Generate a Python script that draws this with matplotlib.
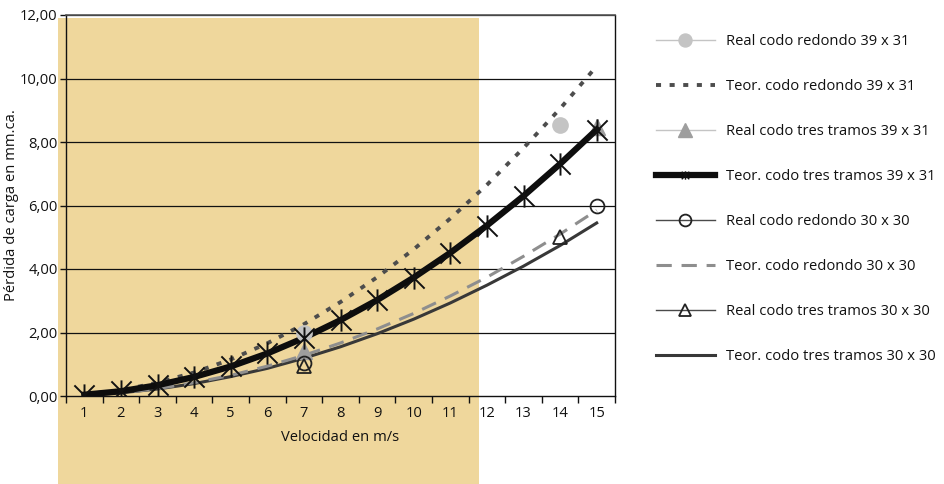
import numpy as np
import matplotlib
matplotlib.use("Agg")
import matplotlib.pyplot as plt
from matplotlib.patches import Rectangle
from matplotlib.path import Path

plt.rcParams['font.family'] = ['Open Sans', 'DejaVu Sans']

velocidad = list(range(1, 16))
nan = np.nan

real_redondo_39 = [nan, nan, nan, nan, nan, nan, 2.00, nan, nan, nan, nan, nan, nan, 8.53, nan]
teor_redondo_39 = [0.05, 0.18, 0.42, 0.74, 1.15, 1.66, 2.26, 2.96, 3.74, 4.62, 5.59, 6.65, 7.81, 9.05, 10.39]
real_tres_39 = [nan, nan, nan, nan, nan, nan, 1.42, nan, nan, nan, nan, nan, nan, nan, 8.47]
teor_tres_39 = [0.04, 0.15, 0.34, 0.60, 0.93, 1.34, 1.83, 2.39, 3.02, 3.73, 4.51, 5.37, 6.30, 7.31, 8.39]
real_redondo_30 = [nan, nan, nan, nan, nan, nan, 1.04, nan, nan, nan, nan, nan, nan, nan, 6.00]
teor_redondo_30 = [0.03, 0.10, 0.23, 0.42, 0.65, 0.94, 1.28, 1.67, 2.11, 2.60, 3.15, 3.74, 4.40, 5.10, 5.85]
real_tres_30 = [nan, nan, nan, nan, nan, nan, 0.95, nan, nan, nan, nan, nan, nan, 5.00, nan]
teor_tres_30 = [0.02, 0.10, 0.22, 0.39, 0.61, 0.87, 1.19, 1.55, 1.96, 2.42, 2.93, 3.49, 4.09, 4.74, 5.45]

labels = ["Real codo redondo 39 x 31", "Teor. codo redondo 39 x 31",
          "Real codo tres tramos 39 x 31", "Teor. codo tres tramos 39 x 31",
          "Real codo redondo 30 x 30", "Teor. codo redondo 30 x 30",
          "Real codo tres tramos 30 x 30", "Teor. codo tres tramos 30 x 30"]

yticks = [0, 2, 4, 6, 8, 10, 12]
ytick_labels = ["0,00", "2,00", "4,00", "6,00", "8,00", "10,00", "12,00"]

# asterisk marker: X plus vertical bar
star = Path([(-1, -1), (1, 1), (-1, 1), (1, -1), (0, -1.1), (0, 1.1)],
            [Path.MOVETO, Path.LINETO, Path.MOVETO, Path.LINETO, Path.MOVETO, Path.LINETO])

FS = 10.6
fig = plt.figure(figsize=(9.45, 4.84), dpi=100)
ax = fig.add_axes([66/945, 1-396/484, (615-66)/945, (396-15)/484])

# shaded band
ax.add_patch(Rectangle((0.28, -2.8), 11.5, 11.9 + 2.8, facecolor='#efd79c',
                       edgecolor='none', clip_on=False, zorder=0.2))

for y in yticks[1:]:
    ax.axhline(y, color='#111111', lw=0.9, zorder=0.6)

v = np.array(velocidad)
h = []
h.append(ax.plot(v, teor_tres_30, color='#383838', lw=2.2, zorder=3, label=labels[7])[0])
h.append(ax.plot(v, teor_redondo_30, color='#8e8e8e', lw=2.2, dashes=(5, 3.2), zorder=3, label=labels[5])[0])
h.append(ax.plot(v, teor_redondo_39, color='#4d4d4d', lw=2.8, dashes=(1.3, 2.2), zorder=3, label=labels[1])[0])
h.append(ax.plot(v, teor_tres_39, color='#0d0d0d', lw=4.5, zorder=4, label=labels[3])[0])
h.append(ax.plot(v, real_redondo_39, color='#c4c4c4', lw=1, marker='o', markersize=11,
                 markeredgecolor='#c4c4c4', zorder=4.3, label=labels[0])[0])
h.append(ax.plot(v, real_tres_39, color='#c4c4c4', lw=1, marker='^', markersize=12,
                 markerfacecolor='#9e9e9e', markeredgecolor='#9e9e9e', zorder=3.5, label=labels[2])[0])
# asterisk markers of the black line drawn above the grey real points
ax.plot(v, teor_tres_39, linestyle='none', marker=star, markersize=16,
        markeredgewidth=1.4, markeredgecolor='#111111', zorder=4.6)
h.append(ax.plot(v, real_redondo_30, color='#4a4a4a', lw=1, marker='o', markersize=10,
                 markerfacecolor='none', markeredgecolor='#222222', markeredgewidth=1.3, zorder=5, label=labels[4])[0])
h.append(ax.plot(v, real_tres_30, color='#4a4a4a', lw=1, marker='^', markersize=10,
                 markerfacecolor='none', markeredgecolor='#222222', markeredgewidth=1.3, zorder=5, label=labels[6])[0])

ax.set_xlim(0.5, 15.5)
ax.set_ylim(0, 12)
ax.set_yticks(yticks)
ax.set_yticklabels(ytick_labels)
ax.set_xticks(v)
ax.set_xticklabels([str(x) for x in velocidad])
ax.set_xticks(np.arange(0.5, 16, 1), minor=True)
ax.tick_params(axis='x', which='major', length=0, pad=7, labelsize=FS, colors='#111111')
ax.tick_params(axis='x', which='minor', length=5, width=1, color='#111111', direction='out')
ax.tick_params(axis='y', length=4, width=1, pad=2, labelsize=FS, colors='#111111')
for s in ['left', 'right', 'bottom']:
    ax.spines[s].set_color('#111111')
    ax.spines[s].set_linewidth(1)
ax.spines['top'].set_color('#555555')
ax.spines['top'].set_linewidth(1.2)
ax.patch.set_alpha(0)
ax.set_zorder(1)

ax.set_xlabel("Velocidad en m/s", fontsize=FS, labelpad=7, color='#111111')
ax.set_ylabel("Pérdida de carga en mm.ca.", fontsize=FS, labelpad=1, color='#111111')

handles_by_label = {ln.get_label(): ln for ln in h}
handles = [handles_by_label[l] for l in labels]
leg = fig.legend(handles, labels, loc='upper left', bbox_to_anchor=(656/945, 1-34/484),
                 frameon=False, fontsize=FS, handlelength=4.0, handletextpad=0.75,
                 labelspacing=2.04, borderpad=0, borderaxespad=0)
for lh, lab in zip(leg.legend_handles, labels):
    if lab == labels[3]:
        lh.set_marker(star)
        lh.set_markersize(6)
        lh.set_markeredgewidth(1)
        lh.set_markeredgecolor('#111111')
    else:
        lh.set_markersize(lh.get_markersize() * 0.85)
for t in leg.get_texts():
    t.set_color('#111111')

fig.savefig("out.png", dpi=100)
